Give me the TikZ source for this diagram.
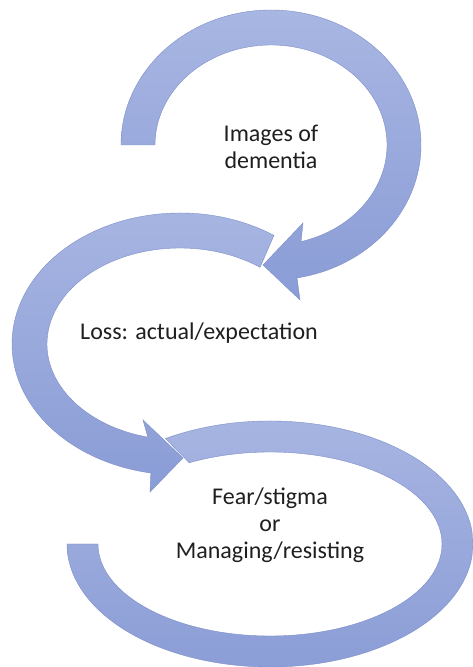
\documentclass[tikz,border=0pt]{standalone}
\usepackage{fontspec}
\setmainfont{Carlito}
\usetikzlibrary{calc}
\definecolor{cbandlight}{HTML}{A8B6E2}
\definecolor{cbanddark}{HTML}{8A9CD6}
\definecolor{cedge}{HTML}{7D8EC8}
\tikzset{
  band/.style={draw=cedge, line width=0.4pt, top color=cbandlight, bottom color=cbanddark},
  phase/.style={align=center, font=\fontsize{24}{27}\selectfont, text=black!88},
}
\begin{document}
\begin{tikzpicture}[x=1pt, y=1pt]
  \useasboundingbox (0,0) rectangle (472,667);
  \coordinate (c1) at (271,522);
  \coordinate (c2) at (180,323);
  \coordinate (c3) at (270,123);
  % top arc, turning down into the middle one
  \coordinate (tip1) at (263,402);
  \path[band] ($(c1)+(180:150 and 135)$)
    arc[start angle=180, end angle=-80, x radius=150, y radius=135]
    -- (300,367) -- (tip1) -- (303,444) -- ($(c1)+(-75:116 and 100)$)
    arc[start angle=-75, end angle=180, x radius=116, y radius=100] -- cycle;
  % middle arc
  \coordinate (tip2) at (183,209);
  \path[band] ($(c2)+(53:133 and 96)$) -- ($(c2)+(56:168 and 131)$)
    arc[start angle=56, end angle=260, x radius=168, y radius=131]
    -- (150,175) -- (tip2) -- (143,247) -- ($(c2)+(256:133 and 96)$)
    arc[start angle=256, end angle=53, x radius=133, y radius=96] -- cycle;
  % bottom arc, no head
  \path[band] ($(c3)+(118:172 and 92)$) -- ($(c3)+(121:203 and 123)$)
    arc[start angle=121, end angle=-180, x radius=203, y radius=123]
    -- ($(c3)+(180:172 and 92)$)
    arc[start angle=-180, end angle=118, x radius=172, y radius=92] -- cycle;

  \node[phase] (images) at (271,520) {Images of\\dementia};
  \node[phase] (loss) at (199,334) {Loss: actual/expectation};
  \node[phase] (fear) at (270,142) {Fear/stigma\\or\\Managing/resisting};
\end{tikzpicture}
\end{document}
